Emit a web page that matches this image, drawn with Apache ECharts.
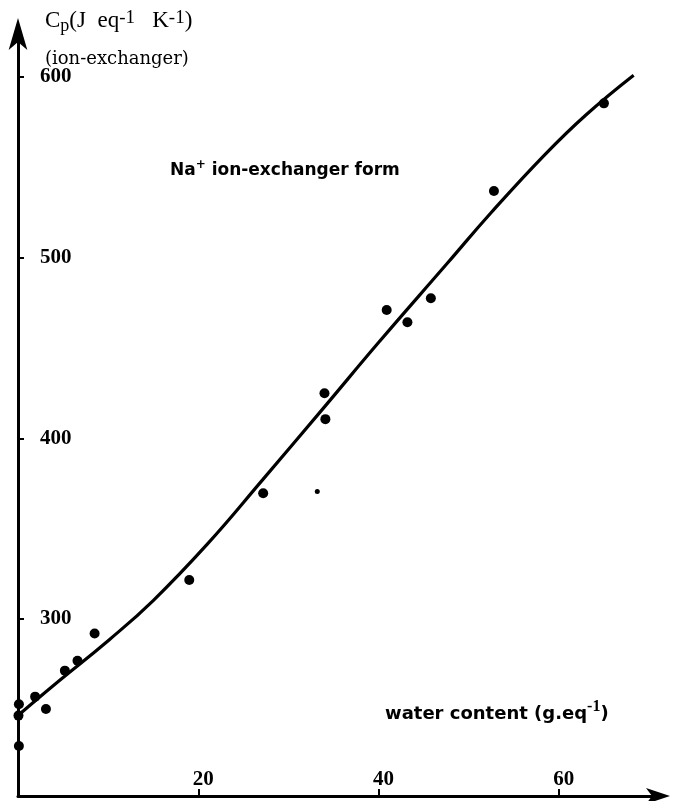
<!DOCTYPE html>
<html><head><meta charset="utf-8">
<script src="https://cdn.jsdelivr.net/npm/echarts@6/dist/echarts.min.js"></script>
<style>html,body{margin:0;padding:0;background:#fff}#c{width:673px;height:801px}</style>
</head><body><div id="c"></div>
<script>
// measured points: water content (g/eq) vs Cp (J eq^-1 K^-1)
const pointX = [0.1, 0.1, 0.05, 1.9, 3.1, 5.2, 6.6, 8.5, 19.0, 27.2, 34.0, 34.1, 40.9, 43.2, 45.8, 52.8, 65.0];
const pointY = [229.7, 252.8, 246.5, 257, 250.2, 271.4, 276.9, 292, 321.6, 369.6, 424.9, 410.6, 471, 464.2, 477.5, 536.9, 585.4];
// the small isolated dot
const smallX = [33.2];
const smallY = [370.5];
// fitted curve
const curveX = [0, 4, 10.1, 15, 21, 27.2, 34, 40, 47.65, 52.5, 58.4, 63, 68.3];
const curveY = [246.6, 263.5, 288.4, 310.2, 341.4, 377.4, 417.4, 453, 497, 525, 556.8, 579, 601];
const yTicks = [300, 400, 500, 600];
const xTicks = [20, 40, 60];

const zip = (a, b) => a.map((v, i) => [v, b[i]]);
const serif = '"Liberation Serif","DejaVu Serif",serif';
const dserif = '"DejaVu Serif","Liberation Serif",serif';
const sans = '"DejaVu Sans","Liberation Sans",sans-serif';

const chart = echarts.init(document.getElementById('c'), null, {renderer: 'canvas'});
chart.setOption({
  animation: false,
  backgroundColor: '#fff',
  grid: {left: 18, top: 34, width: 640, height: 762, containLabel: false},
  xAxis: {
    type: 'value', min: 0, max: 71.0,
    splitLine: {show: false},
    axisLine: {lineStyle: {color: '#000', width: 3}, symbol: ['none', 'arrow'], symbolSize: [12, 24], symbolOffset: [0, 12]},
    axisTick: {show: true, inside: true, length: 7, lineStyle: {color: '#000', width: 2}, customValues: xTicks},
    axisLabel: {inside: true, margin: 6, color: '#000', fontFamily: serif, fontWeight: 'bold', fontSize: 21,
      padding: [0, 0, 0, 10], customValues: xTicks, formatter: v => String(v)}
  },
  yAxis: {
    type: 'value', min: 202, max: 623.8,
    splitLine: {show: false},
    axisLine: {lineStyle: {color: '#000', width: 3}, symbol: ['none', 'arrow'], symbolSize: [14, 32], symbolOffset: [0, 16]},
    axisTick: {show: true, inside: true, length: 6, lineStyle: {color: '#000', width: 2}, customValues: yTicks},
    axisLabel: {inside: true, margin: 22, color: '#000', fontFamily: serif, fontWeight: 'bold', fontSize: 21,
      customValues: yTicks, formatter: v => String(v)}
  },
  series: [
    {type: 'line', data: zip(curveX, curveY), smooth: 0.45, showSymbol: false, symbol: 'none',
     lineStyle: {color: '#000', width: 3.2}, z: 2},
    {type: 'scatter', data: zip(pointX, pointY), symbol: 'circle', symbolSize: 10,
     itemStyle: {color: '#000', opacity: 1}, z: 3},
    {type: 'scatter', data: zip(smallX, smallY), symbol: 'circle', symbolSize: 5,
     itemStyle: {color: '#000', opacity: 1}, z: 3}
  ],
  graphic: [
    {type: 'text', left: 45, top: 9, style: {
      text: '{b|C}{sub|p}{b|(J  eq}{sup|-1}{b|   K}{sup|-1}{b|)}',
      rich: {
        b: {fontFamily: serif, fontSize: 23, color: '#000', lineHeight: 23, verticalAlign: 'top'},
        sub: {fontFamily: serif, fontSize: 18, color: '#000', lineHeight: 26, verticalAlign: 'bottom'},
        sup: {fontFamily: serif, fontSize: 19, color: '#000', lineHeight: 19, verticalAlign: 'top'}
      }}},
    {type: 'text', left: 45, top: 50, style: {text: '(ion-exchanger)', fontFamily: dserif, fontSize: 18, fill: '#000'}},
    {type: 'text', left: 170, top: 159, style: {
      text: '{b|Na}{sup|+}{b| ion-exchanger form}',
      rich: {
        b: {fontFamily: sans, fontSize: 17, fontWeight: 'bold', color: '#000', lineHeight: 20, verticalAlign: 'bottom'},
        sup: {fontFamily: sans, fontSize: 12, fontWeight: 'bold', color: '#000', lineHeight: 20, verticalAlign: 'top'}
      }}},
    {type: 'text', left: 385, top: 699, style: {
      text: '{b|water content (g.eq}{sup|-1}{b|)}',
      rich: {
        b: {fontFamily: sans, fontSize: 18, fontWeight: 'bold', color: '#000', lineHeight: 24, verticalAlign: 'bottom'},
        sup: {fontFamily: serif, fontSize: 16, fontWeight: 'bold', color: '#000', lineHeight: 24, verticalAlign: 'top'}
      }}}
  ]
});
</script></body></html>
